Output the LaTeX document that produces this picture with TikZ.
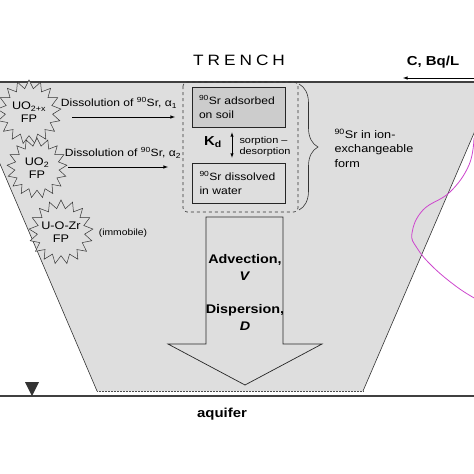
\documentclass[tikz,border=0pt]{standalone}
\usepackage{fontspec}
\setmainfont{Liberation Sans}[FakeStretch=1.15]
\usetikzlibrary{shapes.geometric,decorations.pathreplacing}
\definecolor{trenchgray}{RGB}{222,222,222}
\definecolor{soilgray}{RGB}{204,204,204}
\definecolor{curvepink}{RGB}{205,70,205}
\def\srn{\textsuperscript{90}Sr}
\newcommand\fs[2]{\fontsize{#1}{#2}\selectfont}
\tikzset{
	fuel/.style={star, star points=17, star point ratio=1.35, draw=black!80, fill=trenchgray, line width=0.5pt, inner sep=-5pt, minimum size=#1, align=center, font=\fs{11}{12.5}},
	srbox/.style={draw=black!85, line width=0.6pt, text width=79pt, inner xsep=7pt, minimum height=40pt, align=left, font=\fs{10.5}{14}},
}

\begin{document}
\begin{tikzpicture}[x=1pt,y=-1pt]
		%%%%% START %%%%%
		\useasboundingbox (0,0) rectangle (474,474);
		\clip (0,0) rectangle (474,474);
		
		\fill[trenchgray] (-35,82) -- (496,82) -- (363,391) -- (97,391) -- cycle;
		\draw[line width=0.6pt, color=black!80] (-35,82) -- (97,391);
		\draw[line width=0.6pt, color=black!80] (496,82) -- (363,391);
		\draw[line width=0.5pt, color=black!70, densely dotted] (97,391) -- (363,391);
		\draw[line width=1.2pt, color=black!75] (0,82) -- (474,82);
		
		\draw[line width=1.6pt, color=black!75] (0,396) -- (474,396);
		\fill[black!80] (25,382) -- (39,382) -- (32,396) -- cycle;
		
		\node[font=\fs{15}{16}] (trench) at (239,60) {T\hspace{4pt}R\hspace{4pt}E\hspace{4pt}N\hspace{4pt}C\hspace{4pt}H};
		\node[font=\bfseries\fs{13}{14}] (conc) at (433,62) {C, Bq/L};
		\coordinate (cin) at (474,78);
		\coordinate (cout) at (403,78);
		\draw[-latex, line width=0.6pt] (cin) -- (cout);
		
		\draw[curvepink, line width=0.8pt] plot[smooth, tension=0.7] coordinates {(474,138) (469,165) (450,192) (423,210) (412,233) (417,248) (433,267) (457,287) (476,299)};
		
		\node[fuel=64pt] (uo2x) at (29,112) {UO\textsubscript{2+x}\\FP};
		\node[fuel=60pt] (uo2) at (37,168) {UO\textsubscript{2}\\FP};
		\node[fuel=64pt] (uozr) at (61,232) {U-O-Zr\\FP};
		\node[font=\fs{9}{10}] (immob) at (123,233) {(immobile)};
		
		\node[font=\fs{10.5}{12}] (diss1) at (119,103) {Dissolution of \srn, α\textsubscript{1}};
		\coordinate (d1a) at (72,117);
		\coordinate (d1b) at (175,117);
		\draw[-latex, line width=0.6pt] (d1a) -- (d1b);
		\node[font=\fs{10.5}{12}] (diss2) at (123,153) {Dissolution of \srn, α\textsubscript{2}};
		\coordinate (d2a) at (68,167);
		\coordinate (d2b) at (168,167);
		\draw[-latex, line width=0.6pt] (d2a) -- (d2b);
		
		\draw[dashed, line width=0.6pt, color=black!80, rounded corners=4pt] (183,82) rectangle (298,212);
		\draw[decorate, decoration={brace, amplitude=19pt, aspect=0.5}, line width=0.6pt, color=black!80] (299,84) -- (299,210);
		
		\node[srbox, fill=soilgray] (adsorb) at (238.5,107) {\srn\ adsorbed\\on soil};
		\node[srbox, fill=trenchgray] (dissolved) at (239,183) {\srn\ dissolved\\in water};
		\node[font=\bfseries\fs{13}{14}] (kd) at (213,142) {K\textsubscript{d}};
		\coordinate (kdx) at (232,0);
		\draw[latex-latex, line width=0.5pt, shorten <=5pt, shorten >=5pt] (adsorb.south -| kdx) -- (dissolved.north -| kdx);
		\node[anchor=west, align=left, font=\fs{9.5}{11}] (sorp) at (236,147) {sorption --\\desorption};
		\node[anchor=west, align=left, font=\fs{11}{14.5}] (ionx) at (331,148) {\srn\ in ion-\\exchangeable\\form};
		
		\draw[line width=0.7pt, color=black!85, fill=trenchgray] (206,217) -- (283,217) -- (283,344) -- (322,344) -- (245,385) -- (168,344) -- (206,344) -- cycle;
		\node[font=\bfseries\fs{12.5}{17}, align=center] (adv) at (245,267) {Advection,\\\textit{V}};
		\node[font=\bfseries\fs{12.5}{17}, align=center] (disp) at (245,317) {Dispersion,\\\textit{D}};
		
		\node[font=\bfseries\fs{13}{14}] (aquifer) at (222,414) {aquifer};
		
		%%%%% END %%%%%
\end{tikzpicture}
\end{document}
